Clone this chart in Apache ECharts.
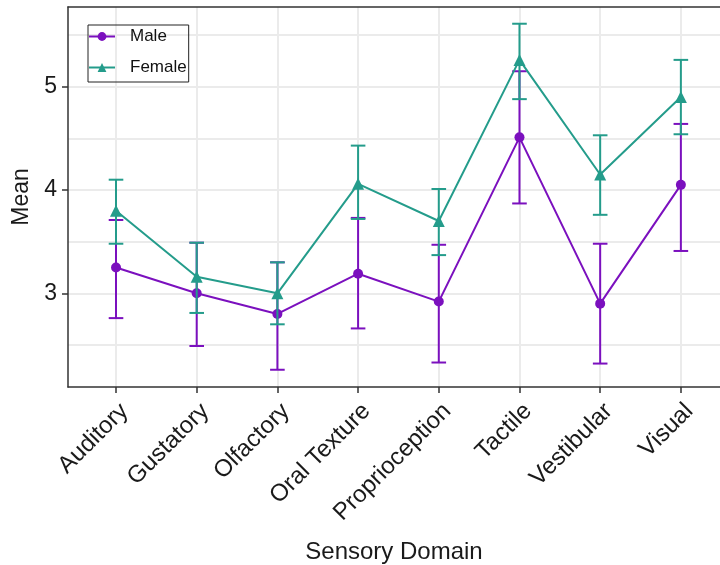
<!DOCTYPE html>
<html><head><meta charset="utf-8">
<script src="https://cdn.jsdelivr.net/npm/echarts@6/dist/echarts.min.js"></script>
<style>html,body{margin:0;padding:0;background:#fff}#c{width:720px;height:565px}</style>
</head><body><div id="c"></div>
<script>
const categories = ['Auditory','Gustatory','Olfactory','Oral Texture','Proprioception','Tactile','Vestibular','Visual'];
const maleMean   = [3.25, 3.00, 2.80, 3.19, 2.92, 4.51, 2.90, 4.05];
const maleLow    = [2.76, 2.49, 2.26, 2.66, 2.33, 3.87, 2.32, 3.41];
const maleHigh   = [3.71, 3.49, 3.30, 3.73, 3.47, 5.15, 3.48, 4.64];
const femaleMean = [3.80, 3.16, 3.00, 4.06, 3.70, 5.26, 4.15, 4.90];
const femaleLow  = [3.48, 2.81, 2.70, 3.72, 3.37, 4.88, 3.76, 4.54];
const femaleHigh = [4.10, 3.49, 3.30, 4.43, 4.01, 5.61, 4.53, 5.26];
const yTicks = [3, 4, 5];
const yGrid = [2.5, 3, 3.5, 4, 4.5, 5, 5.5];

const MALE = '#7B10BE', FEMALE = '#249C8B';
const FONT = 'Liberation Sans';
const idx = categories.map((c, i) => i);

function errRender(color) {
  return function (params, api) {
    const x = api.value(0), lo = api.value(1), hi = api.value(2);
    const a = api.coord([x, lo]), b = api.coord([x, hi]);
    const hw = 7.3;
    const st = { stroke: color, lineWidth: 2 };
    return { type: 'group', children: [
      { type: 'line', shape: { x1: a[0], y1: a[1], x2: b[0], y2: b[1] }, style: st },
      { type: 'line', shape: { x1: a[0] - hw, y1: a[1], x2: a[0] + hw, y2: a[1] }, style: st },
      { type: 'line', shape: { x1: b[0] - hw, y1: b[1], x2: b[0] + hw, y2: b[1] }, style: st }
    ]};
  };
}

const chart = echarts.init(document.getElementById('c'));
chart.setOption({
  animation: false,
  backgroundColor: '#fff',
  grid: { left: 68, right: 0, top: 7, bottom: 178, containLabel: false, outerBoundsMode: 'none' },
  legend: {
    data: ['Male', 'Female'], orient: 'vertical', left: 88, top: 25,
    itemWidth: 26, itemHeight: 11, itemGap: 14, padding: [3, 2, 6, 0],
    borderColor: '#222', borderWidth: 1,
    textStyle: { fontSize: 17, color: '#111', fontFamily: FONT, padding: [0, 0, 0, 10] }
  },
  xAxis: [{
    type: 'value', min: -0.595, max: 7.485, position: 'bottom',
    axisLine: { show: true, onZero: false, lineStyle: { color: '#333', width: 1.5 } },
    axisTick: { show: true, customValues: idx, length: 6, lineStyle: { color: '#333', width: 1.5 } },
    axisLabel: { customValues: idx, formatter: v => categories[Math.round(v)], rotate: 45,
      align: 'right', verticalAlign: 'top', margin: 12, fontSize: 24, color: '#1a1a1a', fontFamily: FONT },
    splitLine: { show: true, lineStyle: { color: '#ebebeb', width: 2 } },
    name: 'Sensory Domain', nameLocation: 'middle', nameGap: 153,
    nameTextStyle: { fontSize: 24, color: '#1a1a1a', fontFamily: FONT }
  }, {
    type: 'value', min: -0.595, max: 7.485, position: 'top',
    axisLine: { show: true, onZero: false, lineStyle: { color: '#333', width: 1.5 } },
    axisTick: { show: false }, axisLabel: { show: false }, splitLine: { show: false }
  }],
  yAxis: [{
    type: 'value', min: 2.093, max: 5.772, position: 'left',
    axisLine: { show: true, onZero: false, lineStyle: { color: '#333', width: 1.5 } },
    axisTick: { show: true, customValues: yTicks, length: 6, lineStyle: { color: '#333', width: 1.5 } },
    axisLabel: { customValues: yTicks, margin: 11, fontSize: 23, color: '#1a1a1a', fontFamily: FONT },
    splitLine: { show: false },
    name: 'Mean', nameLocation: 'middle', nameGap: 31,
    nameTextStyle: { fontSize: 23, color: '#1a1a1a', fontFamily: FONT }
  }, {
    type: 'value', min: 2.093, max: 5.772, position: 'right',
    axisLine: { show: false }, axisTick: { show: false, customValues: yGrid },
    axisLabel: { show: false, customValues: yGrid },
    splitLine: { show: true, lineStyle: { color: '#ebebeb', width: 2 } }
  }],
  series: [
    { name: 'Male', type: 'line', xAxisIndex: 0, yAxisIndex: 0,
      data: maleMean.map((v, i) => [i, v]), symbol: 'circle', symbolSize: 10,
      lineStyle: { color: MALE, width: 2 }, itemStyle: { color: MALE }, z: 3 },
    { name: 'MaleErr', type: 'custom', xAxisIndex: 0, yAxisIndex: 0,
      data: maleMean.map((v, i) => [i, maleLow[i], maleHigh[i]]),
      renderItem: errRender(MALE), z: 3 },
    { name: 'Female', type: 'line', xAxisIndex: 0, yAxisIndex: 0,
      data: femaleMean.map((v, i) => [i, v]), symbol: 'triangle', symbolSize: 12,
      lineStyle: { color: FEMALE, width: 2 }, itemStyle: { color: FEMALE }, z: 4 },
    { name: 'FemaleErr', type: 'custom', xAxisIndex: 0, yAxisIndex: 0,
      data: femaleMean.map((v, i) => [i, femaleLow[i], femaleHigh[i]]),
      renderItem: errRender(FEMALE), z: 4 }
  ]
});
</script></body></html>
